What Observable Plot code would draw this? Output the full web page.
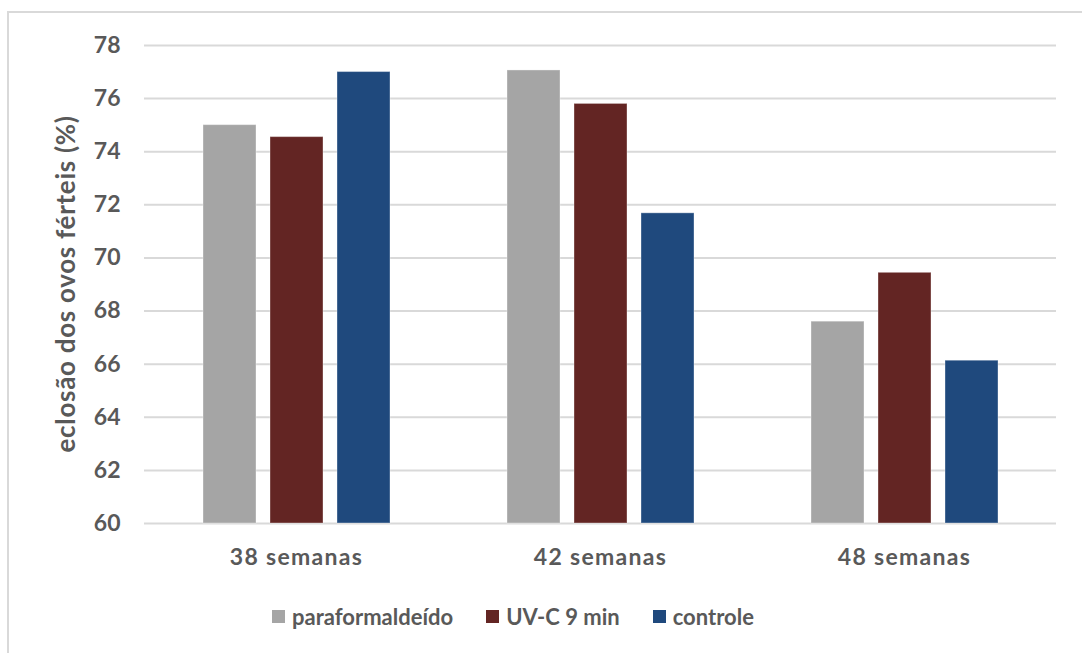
<!DOCTYPE html>
<html>
<head>
<meta charset="utf-8">
<script src="https://cdn.jsdelivr.net/npm/d3@7"></script>
<script src="https://cdn.jsdelivr.net/npm/@observablehq/plot@0.6"></script>
<style>
  html, body { margin: 0; padding: 0; background: #fff; overflow: hidden; }
  body { width: 1082px; height: 653px; position: relative; font-family: Lato, "DejaVu Sans", sans-serif; font-weight: bold; color: #595959; }
  #frame { position: absolute; left: 7px; top: 11px; width: 1200px; height: 800px; border: 2px solid #D9D9D9; box-sizing: border-box; }
  #chart { position: absolute; left: 0; top: 0; }
  #ytitle { position: absolute; left: 65px; top: 284px; transform: translate(-50%, -50%) rotate(-90deg); white-space: nowrap; font-size: 26px; letter-spacing: 0.7px; }
  #legend { position: absolute; left: 272px; top: 603px; display: flex; align-items: center; font-size: 22px; }
  .item { display: flex; align-items: center; margin-right: 33px; }
  .swatch { width: 13px; height: 13px; margin-right: 7px; }
  .fx-axis text { letter-spacing: 1.3px; }
</style>
</head>
<body>
<div id="frame"></div>
<div id="chart"></div>
<div id="ytitle">eclosão dos ovos férteis (%)</div>
<div id="legend"></div>
<script>
// Age groups of the flock and the egg treatments compared
const groups = ["38 semanas", "42 semanas", "48 semanas"];
const series = ["paraformaldeído", "UV-C 9 min", "controle"];

// Hatchability of fertile eggs (%) per age group
const paraformaldeido = [75.0, 77.06, 67.6];
const uvc9min = [74.55, 75.8, 69.44];
const controle = [77.0, 71.68, 66.13];

const colors = ["#A5A5A5", "#632523", "#1F497D"];
const yTicks = [60, 62, 64, 66, 68, 70, 72, 74, 76, 78];

const seriesValues = [paraformaldeido, uvc9min, controle];
const data = [];
groups.forEach((g, gi) => {
  series.forEach((s, si) => {
    data.push({group: g, series: s, value: seriesValues[si][gi]});
  });
});

const chart = Plot.plot({
  width: 1082,
  height: 590,
  marginLeft: 144,
  marginRight: 26,
  marginTop: 45,
  marginBottom: 67,
  style: {fontFamily: "Lato, sans-serif", fontWeight: "bold", color: "#595959", background: "transparent", overflow: "visible"},
  fx: {domain: groups, padding: 0, label: null},
  x: {domain: series, paddingInner: 0.21, paddingOuter: 0.87, axis: null},
  y: {domain: [60, 78], ticks: yTicks, label: null},
  color: {domain: series, range: colors},
  marks: [
    Plot.ruleY(yTicks, {stroke: "#D9D9D9", strokeWidth: 2}),
    Plot.barY(data, {fx: "group", x: "series", y1: 60, y2: "value", fill: "series", stroke: "#ffffff", strokeOpacity: 0.35, strokeWidth: 1}),
    Plot.axisY({ticks: yTicks, tickSize: 0, tickPadding: 24, fontSize: 23, label: null}),
    Plot.axisFx({anchor: "bottom", tickSize: 0, tickPadding: 25, fontSize: 23, label: null, className: "fx-axis"})
  ]
});
document.getElementById("chart").appendChild(chart);

// Legend row below the chart
const legend = document.getElementById("legend");
series.forEach((s, i) => {
  const item = document.createElement("div");
  item.className = "item";
  const sw = document.createElement("span");
  sw.className = "swatch";
  sw.style.background = colors[i];
  const label = document.createElement("span");
  label.textContent = s;
  item.appendChild(sw);
  item.appendChild(label);
  legend.appendChild(item);
});
</script>
</body>
</html>
